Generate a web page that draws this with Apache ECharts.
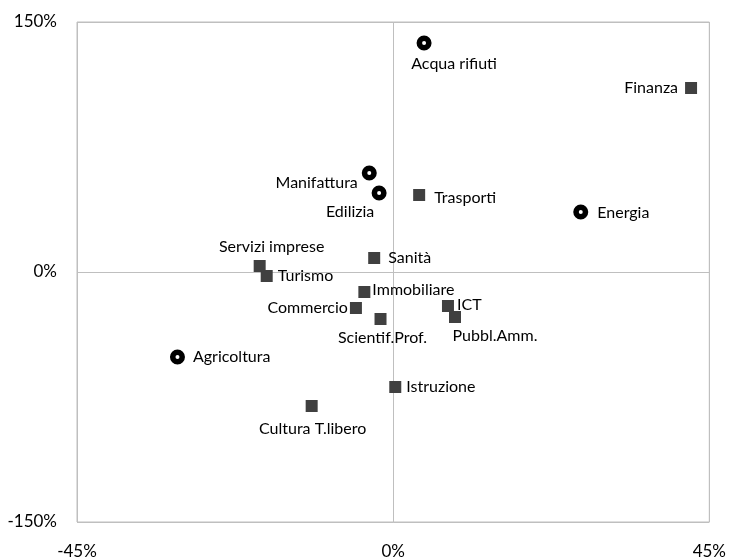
<!DOCTYPE html>
<html>
<head>
<meta charset="utf-8">
<script src="https://cdn.jsdelivr.net/npm/echarts@6/dist/echarts.min.js"></script>
<style>
    html, body { margin: 0; padding: 0; background: #fff; }
    #chart { width: 729px; height: 560px; }
</style>
</head>
<body>
<div id="chart"></div>
<script>
// settori con cerchio (anelli neri)
var circleNames = ['Acqua rifiuti', 'Manifattura', 'Edilizia', 'Energia', 'Agricoltura'];
var circleX = [4.4, -3.4, -2.0, 26.7, -30.7];
var circleY = [137.4, 59.4, 47.4, 36.0, -51.0];

// settori con quadrato
var squareNames = ['Finanza', 'Trasporti', 'Servizi imprese', 'Turismo', 'Sanità', 'Immobiliare',
    'Commercio', 'Scientif.Prof.', 'ICT', 'Pubbl.Amm.', 'Istruzione', 'Cultura T.libero'];
var squareX = [42.4, 3.7, -19.0, -18.0, -2.7, -4.1, -5.3, -1.8, 7.8, 8.8, 0.3, -11.6];
var squareY = [110.4, 46.2, 3.6, -2.4, 8.4, -12.0, -21.6, -28.2, -20.4, -27.0, -69.0, -80.4];

var xTicks = [-45, 0, 45];
var yTicks = [-150, 0, 150];

// posizione delle etichette per ogni punto
var labelPos = {
    'Acqua rifiuti': { position: 'bottom', offset: [30, 0] },
    'Manifattura': { position: 'left', distance: 4, offset: [0, 10] },
    'Edilizia': { position: 'bottom', offset: [-29, -2] },
    'Energia': { position: 'right', distance: 9, offset: [0, 1] },
    'Agricoltura': { position: 'right', distance: 8 },
    'Finanza': { position: 'left', distance: 7 },
    'Trasporti': { position: 'right', distance: 9, offset: [0, 3] },
    'Servizi imprese': { position: 'top', offset: [12, 0] },
    'Turismo': { position: 'right', distance: 5 },
    'Sanità': { position: 'right', distance: 8 },
    'Immobiliare': { position: 'right', distance: 2, offset: [0, -2] },
    'Commercio': { position: 'left', distance: 2 },
    'Scientif.Prof.': { position: 'bottom', offset: [2, 0] },
    'ICT': { position: 'right', distance: 3, offset: [0, -1] },
    'Pubbl.Amm.': { position: 'bottom', offset: [40, 0] },
    'Istruzione': { position: 'right', distance: 5 },
    'Cultura T.libero': { position: 'bottom', offset: [1, 4] }
};

function buildData(names, xs, ys) {
    var out = [];
    for (var i = 0; i < names.length; i++) {
        var lp = labelPos[names[i]] || {};
        out.push({
            name: names[i],
            value: [xs[i], ys[i]],
            label: {
                position: lp.position || 'right',
                distance: lp.distance != null ? lp.distance : 5,
                offset: lp.offset || [0, 0]
            }
        });
    }
    return out;
}

var chart = echarts.init(document.getElementById('chart'));
var fontFamily = 'Lato, "Open Sans", sans-serif';

var option = {
    animation: false,
    backgroundColor: '#fff',
    grid: {
        left: 77, right: 18, top: 22, bottom: 38,
        show: true,
        borderColor: '#bfbfbf',
        borderWidth: 1
    },
    xAxis: {
        type: 'value',
        min: xTicks[0],
        max: xTicks[xTicks.length - 1],
        interval: 45,
        axisLine: { show: false },
        axisTick: { show: false },
        splitLine: { show: true, lineStyle: { color: '#bfbfbf', width: 1 } },
        axisLabel: {
            formatter: '{value}%',
            margin: 21,
            color: '#000',
            fontSize: 17,
            fontFamily: fontFamily
        }
    },
    yAxis: {
        type: 'value',
        min: yTicks[0],
        max: yTicks[yTicks.length - 1],
        interval: 150,
        axisLine: { show: false },
        axisTick: { show: false },
        splitLine: { show: true, lineStyle: { color: '#bfbfbf', width: 1 } },
        axisLabel: {
            formatter: '{value}%',
            margin: 20,
            color: '#000',
            fontSize: 17,
            fontFamily: fontFamily
        }
    },
    series: [
        {
            name: 'cerchi',
            type: 'scatter',
            symbol: 'circle',
            symbolSize: 9.5,
            itemStyle: { color: '#fff', borderColor: '#000', borderWidth: 5.5, opacity: 1 },
            label: {
                show: true,
                formatter: '{b}',
                color: '#000',
                fontSize: 16,
                fontFamily: fontFamily
            },
            data: buildData(circleNames, circleX, circleY)
        },
        {
            name: 'quadrati',
            type: 'scatter',
            symbol: 'rect',
            symbolSize: 12,
            itemStyle: { color: '#404040', opacity: 1 },
            label: {
                show: true,
                formatter: '{b}',
                color: '#000',
                fontSize: 16,
                fontFamily: fontFamily
            },
            data: buildData(squareNames, squareX, squareY)
        }
    ]
};

chart.setOption(option);
</script>
</body>
</html>
